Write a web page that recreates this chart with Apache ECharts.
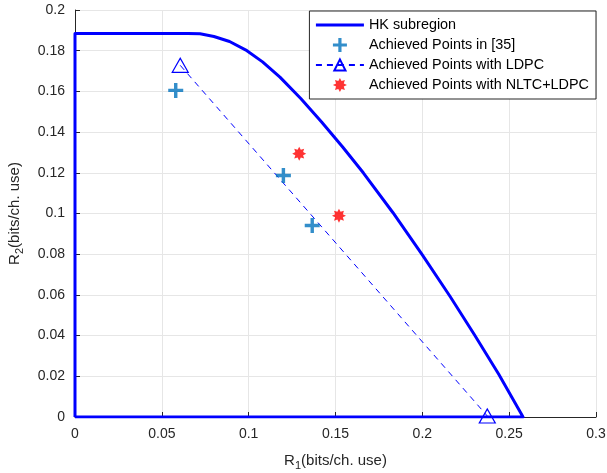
<!DOCTYPE html>
<html>
<head>
<meta charset="utf-8">
<script src="https://cdn.jsdelivr.net/npm/echarts@6/dist/echarts.min.js"></script>
<style>
  html, body { margin: 0; padding: 0; background: #fff; }
  #chart { width: 607px; height: 473px; }
</style>
</head>
<body>
<div id="chart"></div>
<script>
// HK subregion boundary (closed path)
const hkR1 = [0, 0, 0.065, 0.072, 0.080, 0.089, 0.099, 0.108, 0.118, 0.130, 0.142, 0.154, 0.166, 0.183, 0.200, 0.216, 0.230, 0.244, 0.258, 0]
const hkR2 = [0, 0.1885, 0.1885, 0.1883, 0.1870, 0.1845, 0.1800, 0.1745, 0.1670, 0.1565, 0.1450, 0.1328, 0.1200, 0.1005, 0.0797, 0.0592, 0.0404, 0.0210, 0, 0]

// achieved points
const ref35R1 = [0.058, 0.120, 0.1366]
const ref35R2 = [0.1605, 0.1187, 0.0941]
const ldpcR1 = [0.0606, 0.2374]
const ldpcR2 = [0.1728, 0.0005]
const nltcR1 = [0.1291, 0.152]
const nltcR2 = [0.1294, 0.0989]

const zip = (a, b) => a.map((v, i) => [v, b[i]])

// plus marker
const plusPath = 'path://M-1.6,-7 L1.6,-7 L1.6,-1.6 L7,-1.6 L7,1.6 L1.6,1.6 L1.6,7 L-1.6,7 L-1.6,1.6 L-7,1.6 L-7,-1.6 L-1.6,-1.6 Z'
// asterisk marker, 16 vertex star
let star = []
for (let i = 0; i < 16; i++) {
    const r = i % 2 === 0 ? 10 : 6
    const a = Math.PI / 2 + i * Math.PI / 8
    star.push((r * Math.cos(a)).toFixed(2) + ',' + (r * Math.sin(a)).toFixed(2))
}
const starPath = 'path://M' + star.join(' L') + ' Z'

const font = 'Liberation Sans, Arial, Helvetica, sans-serif'
const axisColor = '#262626'

const chart = echarts.init(document.getElementById('chart'))
chart.setOption({
    animation: false,
    grid: { left: 75, right: 11, top: 10, bottom: 56, outerBoundsMode: 'none' },
    legend: {
        right: 11, top: 11,
        orient: 'vertical',
        backgroundColor: '#fff',
        borderColor: '#262626',
        borderWidth: 1,
        borderRadius: 0,
        padding: [7, 7, 7, 5],
        itemGap: 6,
        itemWidth: 48,
        itemHeight: 14,
        textStyle: { fontFamily: font, fontSize: 14.4, color: '#000' },
        data: [
            { name: 'HK subregion', itemStyle: { opacity: 0 }, lineStyle: { width: 3 } },
            'Achieved Points in [35]',
            'Achieved Points with LDPC',
            'Achieved Points with NLTC+LDPC'
        ]
    },
    xAxis: {
        type: 'value', min: 0, max: 0.3, interval: 0.05,
        name: '{a|R}{b|1}{a|(bits/ch. use)}',
        nameLocation: 'middle', nameGap: 33,
        nameTextStyle: {
            rich: {
                a: { fontFamily: font, fontSize: 15, color: axisColor },
                b: { fontFamily: font, fontSize: 11, color: axisColor, padding: [10, 0, 0, 0] }
            }
        },
        axisLine: { show: true, lineStyle: { color: axisColor, width: 1 } },
        axisTick: { inside: true, length: 5, lineStyle: { color: axisColor } },
        axisLabel: { fontFamily: font, fontSize: 14, color: axisColor, margin: 10,
            formatter: v => String(+v.toFixed(2)) },
        splitLine: { show: true, lineStyle: { color: '#e6e6e6', width: 1 } }
    },
    yAxis: {
        type: 'value', min: 0, max: 0.2, interval: 0.02,
        name: '{a|R}{b|2}{a|(bits/ch. use)}',
        nameLocation: 'middle', nameGap: 50,
        nameTextStyle: {
            rich: {
                a: { fontFamily: font, fontSize: 15, color: axisColor },
                b: { fontFamily: font, fontSize: 11, color: axisColor, padding: [10, 0, 0, 0] }
            }
        },
        axisLine: { show: true, lineStyle: { color: axisColor, width: 1 } },
        axisTick: { inside: true, length: 5, lineStyle: { color: axisColor } },
        axisLabel: { fontFamily: font, fontSize: 14, color: axisColor, margin: 10,
            formatter: v => String(+v.toFixed(2)) },
        splitLine: { show: true, lineStyle: { color: '#e6e6e6', width: 1 } }
    },
    series: [
        {
            name: 'HK subregion', type: 'line',
            data: zip(hkR1, hkR2),
            symbol: 'none', smooth: false, z: 3,
            lineStyle: { color: '#0000ff', width: 3, join: 'round' },
            itemStyle: { color: '#0000ff' }
        },
        {
            name: 'Achieved Points in [35]', type: 'scatter',
            data: zip(ref35R1, ref35R2),
            symbol: plusPath, symbolSize: 15, z: 4,
            itemStyle: { color: '#0072bd' }
        },
        {
            name: 'Achieved Points with LDPC', type: 'line',
            data: zip(ldpcR1, ldpcR2),
            symbol: 'triangle', symbolSize: [16, 14], showSymbol: true, z: 4,
            lineStyle: { color: '#0000ff', width: 1, type: [6, 5] },
            itemStyle: { color: 'rgba(0,0,0,0)', borderColor: '#0000ff', borderWidth: 1.2 }
        },
        {
            name: 'Achieved Points with NLTC+LDPC', type: 'scatter',
            data: zip(nltcR1, nltcR2),
            symbol: starPath, symbolSize: 14, z: 4,
            itemStyle: { color: '#ff0000' }
        }
    ]
})
</script>
</body>
</html>
